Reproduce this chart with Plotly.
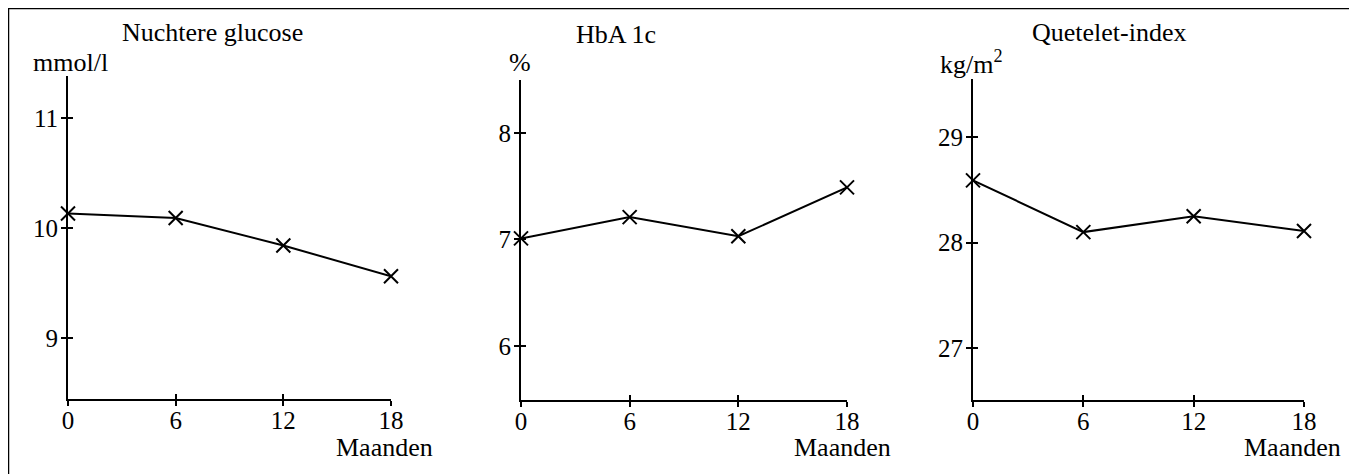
import plotly.graph_objects as go

# The page body has an 8 px default margin, so the figure is drawn 8 px in
# from the top-left corner of the window.
OFF = 8
W, H = 1357 - OFF, 474 - OFF

months = [0, 6, 12, 18]
glucose = [10.13, 10.09, 9.84, 9.56]
hba1c = [7.01, 7.21, 7.03, 7.49]
quetelet = [28.59, 28.10, 28.25, 28.11]

titles = ["Nuchtere glucose", "HbA 1c", "Quetelet-index"]
units = ["mmol/l", "%", "kg/m<sup>2</sup>"]
xlabel = "Maanden"
x_ticks = [0, 6, 12, 18]
y_ticks = [[9, 10, 11], [6, 7, 8], [27, 28, 29]]
y_ranges = [[8.445, 11.38], [5.49, 8.50], [26.51, 29.55]]

series = [glucose, hba1c, quetelet]

# panel geometry in window pixels: (x_left, x_right, y_top, y_bottom)
panels = [(68, 391, 76, 399), (521, 847, 80, 400), (973, 1304, 79, 400)]
title_pos = [(212, 33), (616, 35), (1109, 33)]
unit_pos = [(71, 62), (520, 62), (972, 62)]
maanden_right = [435, 893, 1343]

FONT = "Liberation Serif"

def px(x):
    return (x - OFF) / W

def py(y):
    return 1 - (y - OFF) / H

fig = go.Figure()
layout = dict(
    width=W, height=H,
    margin=dict(l=0, r=0, t=0, b=0, autoexpand=False),
    paper_bgcolor="white", plot_bgcolor="white",
    showlegend=False,
    font=dict(family=FONT, size=24, color="black"),
)
annotations = []

for i, (vals, (xl, xr, yt, yb)) in enumerate(zip(series, panels)):
    n = i + 1
    xa = "x" if n == 1 else f"x{n}"
    ya = "y" if n == 1 else f"y{n}"
    fig.add_trace(go.Scatter(
        x=months, y=vals, xaxis=xa, yaxis=ya, mode="lines+markers",
        line=dict(color="black", width=2),
        marker=dict(symbol="x-thin", size=14, line=dict(color="black", width=2)),
        cliponaxis=False,
    ))
    common_x = dict(range=[0, 18], tickvals=x_ticks, showgrid=False, zeroline=False,
                    fixedrange=True, automargin=False)
    common_y = dict(range=y_ranges[i], tickvals=y_ticks[i], showgrid=False,
                    zeroline=False, fixedrange=True, automargin=False)
    layout[f"xaxis{n if n > 1 else ''}"] = dict(
        domain=[px(xl), px(xr)], anchor=ya, showline=True, linecolor="black",
        linewidth=2, ticks="outside", ticklen=5, tickwidth=1.5, tickcolor="black",
        ticklabelstandoff=-7,
        tickfont=dict(family=FONT, size=25, color="black"), **common_x)
    layout[f"yaxis{n if n > 1 else ''}"] = dict(
        domain=[py(yb), py(yt)], anchor=xa, showline=True, linecolor="black",
        linewidth=2, ticks="outside", ticklen=5, tickwidth=1.5, tickcolor="black",
        ticklabelstandoff=-2,
        tickfont=dict(family=FONT, size=25, color="black"), **common_y)
    # overlay axes for ticks crossing the axis line
    m = n + 3
    layout[f"xaxis{m}"] = dict(overlaying=xa, anchor=ya, showline=False,
                               ticks="inside", ticklen=5, tickwidth=1.5,
                               tickcolor="black", showticklabels=False,
                               side="bottom", **common_x)
    layout[f"yaxis{m}"] = dict(overlaying=ya, anchor=xa, showline=False,
                               ticks="inside", ticklen=5, tickwidth=1.5,
                               tickcolor="black", showticklabels=False,
                               side="left", **common_y)
    fig.add_trace(go.Scatter(x=[None], y=[None], xaxis=f"x{m}", yaxis=f"y{m}",
                             showlegend=False, hoverinfo="skip"))

    tx, ty = title_pos[i]
    annotations.append(dict(text=titles[i], x=px(tx), y=py(ty), xref="paper",
                            yref="paper", showarrow=False, xanchor="center",
                            yanchor="middle", font=dict(family=FONT, size=26)))
    ux, uy = unit_pos[i]
    annotations.append(dict(text=units[i], x=px(ux), y=py(uy), xref="paper",
                            yref="paper", showarrow=False, xanchor="center",
                            yanchor="middle", font=dict(family=FONT, size=26)))
    annotations.append(dict(text=xlabel, x=px(maanden_right[i]), y=py(447),
                            xref="paper", yref="paper", showarrow=False,
                            xanchor="right", yanchor="middle",
                            font=dict(family=FONT, size=26)))

layout["annotations"] = annotations
layout["shapes"] = [dict(type="rect", xref="paper", yref="paper",
                         x0=px(8.5), x1=px(1351), y0=-0.1, y1=py(8.5),
                         line=dict(color="black", width=1.5))]

fig.update_layout(**layout)
fig.write_html("out.html")
